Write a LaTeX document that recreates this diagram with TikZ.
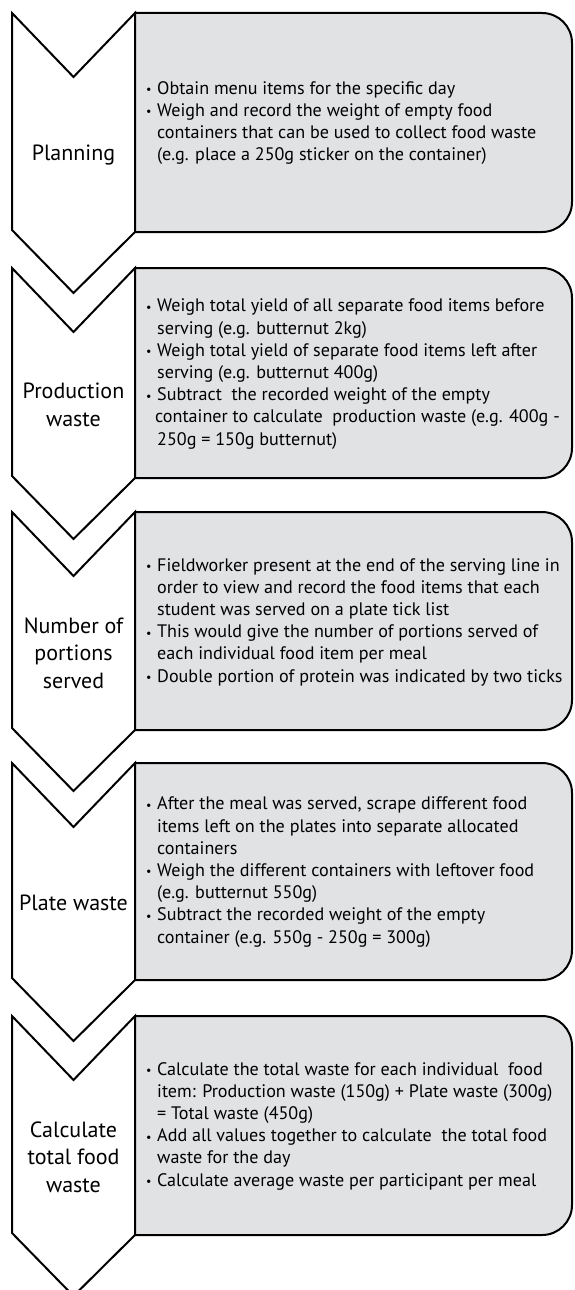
\documentclass[tikz,border=0pt]{standalone}
\usepackage{fontspec}
\setmainfont{PT Sans}
\definecolor{boxgray}{RGB}{225,226,228}
\newcommand\bul{\makebox[11pt][l]{\fontsize{12}{12}\selectfont\raisebox{0.6pt}{•}}}
\newcommand\ind{\hspace*{11pt}}
\tikzset{
  chev/.style={draw=black, fill=white, line width=2pt, line join=miter},
  rbox/.style={draw=black, fill=boxgray, line width=2pt},
  txt/.style={anchor=west, inner sep=0pt, align=left, font=\fontsize{18.1}{22.2}\selectfont},
  lbl/.style={inner sep=0pt, align=center, font=\fontsize{22}{27.5}\selectfont}
}
\newcommand\stage[2]{%
  % #1 top, #2 bottom
  \draw[chev] (12,#1) -- (73.5,#1+64) -- (135,#1) -- (135,#2) -- (73.5,#2+61) -- (12,#2-2) -- cycle;
  \draw[rbox] (135,#1) -- (542,#1) .. controls (558.6,#1) and (572,#1+13.4) .. (572,#1+30)
    -- (572,#2-30) .. controls (572,#2-13.4) and (558.6,#2) .. (542,#2) -- (135,#2) -- cycle;
}
\begin{document}
\begin{tikzpicture}[x=1pt,y=-1pt]
\useasboundingbox (0,0) rectangle (574,1290);
\stage{13}{232}
\stage{268}{478}
\stage{512}{730}
\stage{763}{980}
\stage{1016}{1235}

\node[lbl] (l1) at (73.5,155) {Planning};
\node[lbl] (l2) at (73.5,405) {Production\\waste};
\node[lbl] (l3) at (73.5,653) {Number of\\portions\\served};
\node[lbl] (l4) at (73.5,903) {Plate waste};
\node[lbl] (l5) at (73.5,1157) {Calculate\\total food\\waste};

\node[txt] (t1) at (146,123) {\bul Obtain menu items for the specific day\\
\bul Weigh and record the weight of empty food\\
\ind containers that can be used to collect food waste\\
\ind (e.g. place a 250g sticker on the container)};

\node[txt] (t2) at (146,374) {\bul Weigh total yield of all separate food items before\\
\ind serving (e.g. butternut 2kg)\\
\bul Weigh total yield of separate food items left after\\
\ind serving (e.g. butternut 400g)\\
\bul Subtract\ \ the recorded weight of the empty\\
\hspace*{9pt}container to calculate\ \ production waste (e.g. 400g -\\
\ind 250g = 150g butternut)};

\node[txt] (t3) at (146,622) {\bul Fieldworker present at the end of the serving line in\\
\ind order to view and record the food items that each\\
\ind student was served on a plate tick list\\
\bul This would give the number of portions served of\\
\ind each individual food item per meal\\
\bul Double portion of protein was indicated by two ticks};

\node[txt] (t4) at (146,872) {\bul After the meal was served, scrape different food\\
\ind items left on the plates into separate allocated\\
\ind containers\\
\bul Weigh the different containers with leftover food\\
\ind (e.g. butternut 550g)\\
\bul Subtract the recorded weight of the empty\\
\ind container (e.g. 550g - 250g = 300g)};

\node[txt] (t5) at (146,1126) {\bul Calculate the total waste for each individual\ \ food\\
\ind item: Production waste (150g) + Plate waste (300g)\\
\ind = Total waste (450g)\\
\bul Add all values together to calculate\ \ the total food\\
\ind waste for the day\\
\bul Calculate average waste per participant per meal};
\end{tikzpicture}
\end{document}
